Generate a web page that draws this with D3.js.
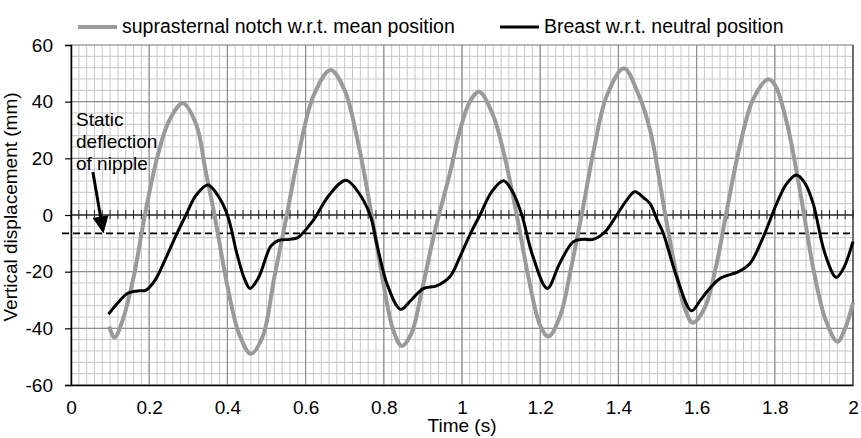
<!DOCTYPE html>
<html>

<head>
  <meta charset="utf-8">
  <title>Suprasternal notch vs breast displacement</title>
  <script src="https://cdn.jsdelivr.net/npm/d3@7"></script>
  <style>
    body { margin: 0; background: #fff; }
    text { font-family: "Liberation Sans", Arial, sans-serif; fill: #000; }
  </style>
</head>

<body>
  <svg width="861" height="438" id="mainsvg"></svg>
  <script>
    // time (s) and displacement (mm)
    const notchTime = [0.098, 0.111, 0.13, 0.16, 0.189, 0.22, 0.25, 0.286, 0.32, 0.345, 0.367, 0.40, 0.43, 0.46,
      0.49, 0.52, 0.552, 0.58, 0.62, 0.664, 0.70, 0.735, 0.769, 0.80, 0.825, 0.846, 0.87, 0.90, 0.93, 0.969,
      0.995, 1.02, 1.044, 1.08, 1.11, 1.14, 1.17, 1.20, 1.221, 1.25, 1.28, 1.306, 1.34, 1.37, 1.414, 1.45, 1.481,
      1.52, 1.55, 1.57, 1.59, 1.62, 1.65, 1.675, 1.71, 1.745, 1.783, 1.80, 1.83, 1.86, 1.875, 1.90, 1.93, 1.96, 1.98, 2.0];
    const notchValue = [-39.4, -43.3, -38, -22, 0, 20, 33, 39.4, 32, 15, 0, -25, -42, -49,
      -43, -22, 0, 20, 42, 51.2, 44, 25, 0, -25, -41, -46.2, -42, -25, -6, 14.7,
      30, 40, 43.5, 35, 20, 0, -22, -39, -42.9, -36, -18, 0, 25, 42, 51.8, 43, 30,
      0, -22, -33, -38, -33, -18, 0, 24, 41, 47.9, 46, 33, 12, 0, -20, -37, -44.7, -40, -31];

    const breastTime = [0.096, 0.12, 0.145, 0.17, 0.192, 0.215, 0.24, 0.271, 0.294, 0.32, 0.35, 0.375, 0.40, 0.425,
      0.445, 0.458, 0.48, 0.511, 0.53, 0.56, 0.58, 0.62, 0.66, 0.703, 0.735, 0.765, 0.785, 0.81, 0.843, 0.87,
      0.901, 0.935, 0.969, 0.995, 1.02, 1.046, 1.075, 1.106, 1.13, 1.153, 1.18, 1.218, 1.25, 1.285, 1.31, 1.336,
      1.366, 1.396, 1.42, 1.442, 1.465, 1.481, 1.50, 1.515, 1.549, 1.587, 1.61, 1.63, 1.66, 1.707, 1.737, 1.771,
      1.805, 1.83, 1.856, 1.878, 1.898, 1.928, 1.957, 1.975, 2.0];
    const breastValue = [-35, -31, -27.6, -26.8, -26.5, -23, -16, -6.5, 0, 7, 10.6, 7, 0, -14,
      -23, -25.9, -22, -11, -9, -8.6, -8, -1.8, 7, 12.3, 8, 0, -12, -25, -33.3, -30,
      -26, -25, -21.8, -14.7, -7, 0, 8, 12.1, 8, 0, -14, -25.9, -17, -9.4, -8.6, -8.6,
      -5.9, 0, 5, 8.2, 6, 4, -2, -6.5, -21.8, -33.8, -30, -26.5, -22.4, -20, -17, -7.6,
      4.1, 11, 14.1, 11, 4.1, -13.5, -22, -19, -9.4];

    const xTicks = [0, 0.2, 0.4, 0.6, 0.8, 1, 1.2, 1.4, 1.6, 1.8, 2];
    const yTicks = [-60, -40, -20, 0, 20, 40, 60];
    const staticDeflection = -6.5;
    const seriesNames = ['suprasternal notch w.r.t. mean position', 'Breast w.r.t. neutral position'];
    const noteLines = ['Static', 'deflection', 'of nipple'];

    const svg = d3.select('#mainsvg');
    const margin = { top: 45, right: 8, bottom: 53, left: 71 };
    const width = +svg.attr('width');
    const height = +svg.attr('height');
    const innerWidth = width - margin.left - margin.right;
    const innerHeight = height - margin.top - margin.bottom;

    const xScale = d3.scaleLinear().domain([0, 2]).range([0, innerWidth]);
    const yScale = d3.scaleLinear().domain([-60, 60]).range([innerHeight, 0]);

    const g = svg.append('g').attr('transform', `translate(${margin.left}, ${margin.top})`);

    // minor grid: 0.02 s and 4 mm
    const minorX = d3.range(0, 101).map(i => i * 0.02);
    const minorY = d3.range(0, 31).map(i => -60 + i * 4);
    g.append('g').selectAll('line').data(minorX).enter().append('line')
      .attr('x1', d => xScale(d)).attr('x2', d => xScale(d))
      .attr('y1', 0).attr('y2', innerHeight)
      .attr('stroke', '#c8c8c8').attr('stroke-width', 1);
    g.append('g').selectAll('line').data(minorY).enter().append('line')
      .attr('y1', d => yScale(d)).attr('y2', d => yScale(d))
      .attr('x1', 0).attr('x2', innerWidth)
      .attr('stroke', '#c8c8c8').attr('stroke-width', 1);

    // major grid
    g.append('g').selectAll('line').data(xTicks).enter().append('line')
      .attr('x1', d => xScale(d)).attr('x2', d => xScale(d))
      .attr('y1', 0).attr('y2', innerHeight)
      .attr('stroke', '#8e8e8e').attr('stroke-width', 1.2);
    g.append('g').selectAll('line').data(yTicks).enter().append('line')
      .attr('y1', d => yScale(d)).attr('y2', d => yScale(d))
      .attr('x1', 0).attr('x2', innerWidth)
      .attr('stroke', '#8e8e8e').attr('stroke-width', 1.2);
    g.append('line')
      .attr('x1', innerWidth).attr('x2', innerWidth).attr('y1', 0).attr('y2', innerHeight)
      .attr('stroke', '#555').attr('stroke-width', 1.5);

    // zero line with small ticks
    g.append('line')
      .attr('x1', 0).attr('x2', innerWidth)
      .attr('y1', yScale(0)).attr('y2', yScale(0))
      .attr('stroke', '#000').attr('stroke-width', 1);
    g.append('g').selectAll('line').data(minorX).enter().append('line')
      .attr('x1', d => xScale(d)).attr('x2', d => xScale(d))
      .attr('y1', yScale(0) - 5).attr('y2', yScale(0) + 4)
      .attr('stroke', '#222').attr('stroke-width', 1);

    // static deflection line
    g.append('line')
      .attr('x1', -9).attr('x2', innerWidth)
      .attr('y1', yScale(staticDeflection)).attr('y2', yScale(staticDeflection))
      .attr('stroke', '#000').attr('stroke-width', 1.6)
      .attr('stroke-dasharray', '7,4');

    // series
    const line = d3.line()
      .x(d => xScale(d[0]))
      .y(d => yScale(d[1]))
      .curve(d3.curveCatmullRom.alpha(0.5));
    const notch = d3.zip(notchTime, notchValue);
    const breast = d3.zip(breastTime, breastValue);

    g.append('path').datum(notch).attr('d', line)
      .attr('fill', 'none').attr('stroke', '#9a9a9a').attr('stroke-width', 4)
      .attr('stroke-linejoin', 'round');
    g.append('path').datum(breast).attr('d', line)
      .attr('fill', 'none').attr('stroke', '#000').attr('stroke-width', 3)
      .attr('stroke-linejoin', 'round');

    // axes (plain hyphen for negatives, as in the original)
    const yAxis = d3.axisLeft(yScale).tickValues(yTicks).tickSize(6).tickPadding(12)
      .tickFormat(d => String(d));
    const yAxisGroup = g.append('g').call(yAxis);
    yAxisGroup.selectAll('.domain').attr('stroke', '#000').attr('stroke-width', 1.5);
    yAxisGroup.selectAll('.tick line').attr('stroke', '#000').attr('stroke-width', 1.2);
    yAxisGroup.selectAll('text').attr('font-size', 19).attr('font-family', null);

    const xAxis = d3.axisBottom(xScale).tickValues(xTicks).tickSize(0).tickPadding(15.5)
      .tickFormat(d => String(d));
    const xAxisGroup = g.append('g').attr('transform', `translate(0, ${innerHeight})`).call(xAxis);
    xAxisGroup.selectAll('.domain').attr('stroke', '#000').attr('stroke-width', 1.5);
    xAxisGroup.selectAll('text').attr('font-size', 19).attr('font-family', null);
    svg.selectAll('.tick text').attr('fill', '#000');

    // axis titles
    g.append('text')
      .attr('transform', `rotate(-90)`)
      .attr('x', -(yScale(0) - 8))
      .attr('y', -54)
      .attr('text-anchor', 'middle')
      .attr('font-size', 19)
      .text('Vertical displacement (mm)');
    g.append('text')
      .attr('x', xScale(1))
      .attr('y', innerHeight + 47)
      .attr('text-anchor', 'middle')
      .attr('font-size', 19)
      .text('Time (s)');

    // annotation
    const note = g.append('text')
      .attr('x', xScale(0.0128))
      .attr('y', yScale(31.4))
      .attr('font-size', 19);
    note.selectAll('tspan').data(noteLines).enter().append('tspan')
      .attr('x', xScale(0.0128))
      .attr('dy', (d, i) => i === 0 ? 0 : 22)
      .text(d => d);

    const ax0 = xScale(0.056), ay0 = yScale(15.2);
    const ax1 = xScale(0.083), ay1 = yScale(staticDeflection);
    const len = Math.hypot(ax1 - ax0, ay1 - ay0);
    const ux = (ax1 - ax0) / len, uy = (ay1 - ay0) / len;
    const headLen = 17, headHalf = 8;
    const bx = ax1 - ux * headLen, by = ay1 - uy * headLen;
    g.append('line')
      .attr('x1', ax0).attr('y1', ay0).attr('x2', bx + ux * 2).attr('y2', by + uy * 2)
      .attr('stroke', '#000').attr('stroke-width', 3);
    g.append('path')
      .attr('d', `M${ax1},${ay1}L${bx - uy * headHalf},${by + ux * headHalf}L${bx + uy * headHalf},${by - ux * headHalf}Z`)
      .attr('fill', '#000');

    // legend
    const legend = svg.append('g');
    const legendItems = [
      { name: seriesNames[0], x: 78, color: '#9a9a9a', w: 4 },
      { name: seriesNames[1], x: 500, color: '#000', w: 3 }
    ];
    legendItems.forEach(item => {
      legend.append('line')
        .attr('x1', item.x).attr('x2', item.x + 39)
        .attr('y1', 27).attr('y2', 27)
        .attr('stroke', item.color).attr('stroke-width', item.w);
      legend.append('text')
        .attr('x', item.x + 44).attr('y', 33)
        .attr('font-size', 19.5)
        .text(item.name);
    });
  </script>
</body>

</html>
